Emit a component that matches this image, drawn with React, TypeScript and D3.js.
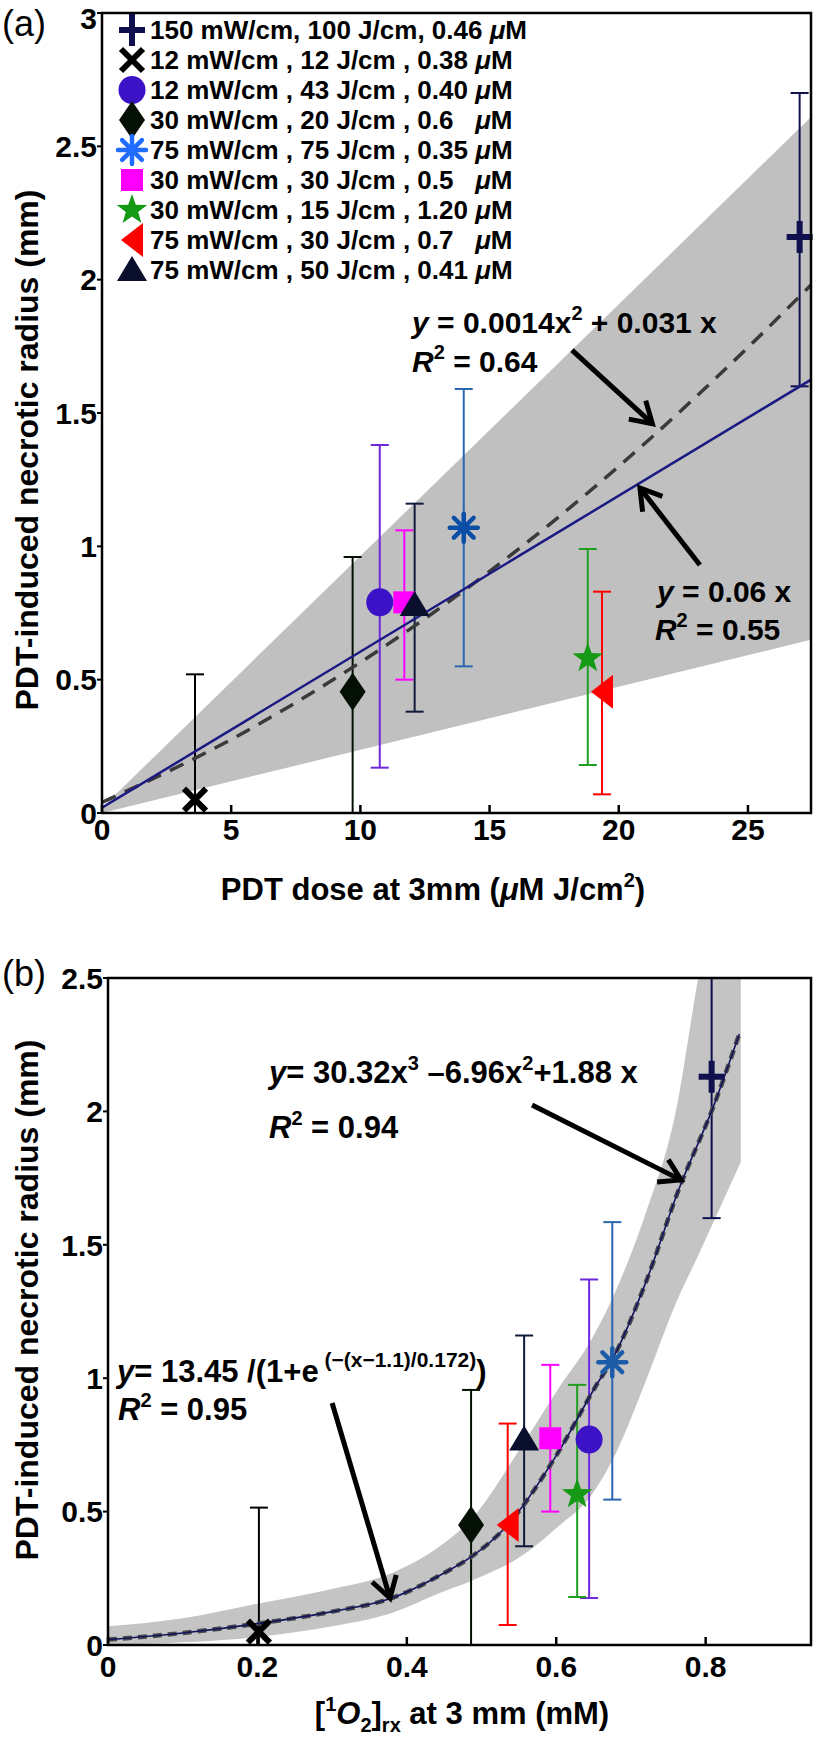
import React from "react";
import * as d3 from "d3";

const FONT = "'Liberation Sans', Arial, Helvetica, sans-serif";

// ---------- legend / series ----------
const legendMain = [
  "150 mW/cm, 100 J/cm, 0.46 ",
  "12 mW/cm , 12 J/cm , 0.38 ",
  "12 mW/cm , 43 J/cm , 0.40 ",
  "30 mW/cm , 20 J/cm , 0.6   ",
  "75 mW/cm , 75 J/cm , 0.35 ",
  "30 mW/cm , 30 J/cm , 0.5   ",
  "30 mW/cm , 15 J/cm , 1.20 ",
  "75 mW/cm , 30 J/cm , 0.7   ",
  "75 mW/cm , 50 J/cm , 0.41 ",
];
const markerKinds = ["plus", "x", "circle", "diamond", "asterisk", "square", "star", "triLeft", "triUp"];
const legendColors = ["#10104e", "#000000", "#3b12c6", "#041004", "#1f6cff", "#ff00ff", "#169a16", "#ff0000", "#0a0f2e"];
const markerColorsA = ["#10104e", "#000000", "#3b12c6", "#041004", "#0a4ea6", "#ff00ff", "#169a16", "#ff0000", "#0a0f2e"];
const markerColorsB = ["#10104e", "#000000", "#3b12c6", "#041004", "#1d5ca8", "#ff00ff", "#169a16", "#ff0000", "#0a0f2e"];
const errColors = ["#10104e", "#000000", "#6d28dc", "#041004", "#2b66ae", "#ff00ff", "#1f9e1f", "#ff0000", "#101a3a"];

// ---------- panel (a) data ----------
const aDose = [27.0, 3.6, 10.75, 9.7, 14.0, 11.7, 18.8, 19.35, 12.1];
const aRadius = [2.16, 0.05, 0.79, 0.455, 1.07, 0.79, 0.58, 0.455, 0.78];
const aUpper = [2.7, 0.52, 1.38, 0.96, 1.59, 1.06, 0.99, 0.83, 1.16];
const aLower = [1.6, -0.42, 0.17, -0.05, 0.55, 0.5, 0.18, 0.07, 0.38];

const aLinX = [0, 27.44];
const aLinY = [0.02, 1.625];
const aQuadX = [0, 5, 10, 15, 20, 25, 27.44];
const aQuadY = [0.04, 0.276, 0.565, 0.906, 1.3, 1.746, 1.98];
const aBandX = [0, 27.44];
const aBandHi = [0.02, 2.61];
const aBandLo = [0.0, 0.65];

const aXTicks = [0, 5, 10, 15, 20, 25];
const aYTicks = [0, 0.5, 1, 1.5, 2, 2.5, 3];
const aXMax = 27.44;
const aYMax = 3;

// ---------- panel (b) data ----------
const bO2 = [0.808, 0.202, 0.644, 0.486, 0.675, 0.592, 0.628, 0.535, 0.557];
const bRadius = [2.13, 0.05, 0.77, 0.45, 1.06, 0.775, 0.565, 0.45, 0.77];
const bUpper = [2.67, 0.515, 1.37, 0.956, 1.585, 1.05, 0.975, 0.83, 1.16];
const bLower = [1.6, -0.41, 0.176, -0.06, 0.545, 0.5, 0.18, 0.075, 0.37];

const bCurveX = [0, 0.1, 0.2, 0.3, 0.38, 0.45, 0.486, 0.535, 0.6, 0.655, 0.675, 0.72, 0.763, 0.812, 0.845];
const bCurveY = [0.02, 0.045, 0.08, 0.125, 0.176, 0.27, 0.33, 0.45, 0.71, 0.98, 1.07, 1.36, 1.7, 2.03, 2.29];
const bBandX = [0, 0.1, 0.2, 0.3, 0.38, 0.444, 0.486, 0.557, 0.605, 0.644, 0.68, 0.72, 0.76, 0.79, 0.847];
const bBandHi = [0.07, 0.1, 0.155, 0.21, 0.27, 0.37, 0.47, 0.76, 0.97, 1.13, 1.33, 1.62, 2.0, 2.5, 3.3];
const bBandLo = [0.0, 0.01, 0.03, 0.07, 0.12, 0.195, 0.24, 0.34, 0.45, 0.55, 0.72, 0.99, 1.28, 1.46, 1.81];

const bXTicks = [0, 0.2, 0.4, 0.6, 0.8];
const bYTicks = [0, 0.5, 1, 1.5, 2, 2.5];
const bXMax = 0.941;
const bYMax = 2.5;

// annotation anchors (data units)
const aEq1 = [12.0, 1.8];
const aEq1R = [12.0, 1.654];
const aArrow1 = [18.19, 1.736, 21.3, 1.46];
const aEq2 = [21.48, 0.791];
const aEq2R = [21.4, 0.649];
const aArrow2 = [23.14, 0.93, 20.82, 1.219];
const bEq1 = [0.2155, 2.106];
const bEq1R = [0.2155, 1.9];
const bArrow1 = [0.5676, 2.024, 0.767, 1.743];
const bEq2 = [0.012, 0.986];
const bEq2R = [0.0134, 0.843];
const bArrow2 = [0.3, 0.907, 0.3775, 0.176];

// ---------- layout ----------
const A = { left: 102, right: 811, top: 13, bottom: 813 };
const B = { left: 108, right: 811, top: 978, bottom: 1645 };

const xA = d3.scaleLinear().domain([0, aXMax]).range([A.left, A.right]);
const yA = d3.scaleLinear().domain([0, aYMax]).range([A.bottom, A.top]);
const xB = d3.scaleLinear().domain([0, bXMax]).range([B.left, B.right]);
const yB = d3.scaleLinear().domain([0, bYMax]).range([B.bottom, B.top]);

const fmt = d3.format("~g");

function Marker({ kind, x, y, color }: { kind: string; x: number; y: number; color: string }) {
  const t = `translate(${x},${y})`;
  switch (kind) {
    case "plus":
      return (
        <g transform={t} stroke={color} strokeWidth={6}>
          <line x1={-13} x2={13} y1={0} y2={0} />
          <line x1={0} x2={0} y1={-16} y2={16} />
        </g>
      );
    case "x":
      return (
        <g transform={t} stroke={color} strokeWidth={6}>
          <line x1={-11} y1={-11} x2={11} y2={11} />
          <line x1={-11} y1={11} x2={11} y2={-11} />
        </g>
      );
    case "circle":
      return <ellipse cx={x} cy={y} rx={13.5} ry={14} fill={color} />;
    case "diamond":
      return <polygon transform={t} points="0,-19 13,0 0,19 -13,0" fill={color} />;
    case "asterisk":
      return (
        <g transform={t} stroke={color} strokeWidth={4.5} strokeLinecap="round">
          {[0, 45, 90, 135].map((a) => (
            <line key={a} x1={-14} x2={14} y1={0} y2={0} transform={`rotate(${a})`} />
          ))}
        </g>
      );
    case "square":
      return <rect x={x - 11} y={y - 11} width={22} height={22} fill={color} />;
    case "star": {
      const pts = d3
        .range(10)
        .map((i) => {
          const r = i % 2 === 0 ? 16 : 6.5;
          const ang = -Math.PI / 2 + (i * Math.PI) / 5;
          return `${(r * Math.cos(ang)).toFixed(2)},${(r * Math.sin(ang)).toFixed(2)}`;
        })
        .join(" ");
      return <polygon transform={t} points={pts} fill={color} />;
    }
    case "triLeft":
      return <polygon transform={t} points="-11,0 11,-17 11,17" fill={color} />;
    case "triUp":
      return <polygon transform={t} points="0,-14 15,11 -15,11" fill={color} />;
    default:
      return null;
  }
}

function Arrow({ x1, y1, x2, y2 }: { x1: number; y1: number; x2: number; y2: number }) {
  const ang = Math.atan2(y2 - y1, x2 - x1);
  const L = 24;
  const s = 0.55;
  const p1 = [x2 - L * Math.cos(ang - s), y2 - L * Math.sin(ang - s)];
  const p2 = [x2 - L * Math.cos(ang + s), y2 - L * Math.sin(ang + s)];
  return (
    <g stroke="#000" strokeWidth={5} fill="none">
      <line x1={x1} y1={y1} x2={x2 - 3 * Math.cos(ang)} y2={y2 - 3 * Math.sin(ang)} />
      <polyline points={`${p1[0]},${p1[1]} ${x2},${y2} ${p2[0]},${p2[1]}`} strokeLinejoin="miter" />
    </g>
  );
}

function ErrBars({ xs, lo, hi, x, y }: any) {
  return (
    <g strokeWidth={2}>
      {xs.map((v: number, i: number) => {
        const cx = x(v);
        const yt = y(hi[i]);
        const yb = y(lo[i]);
        return (
          <g key={i} stroke={errColors[i]}>
            <line x1={cx} x2={cx} y1={yt} y2={yb} />
            <line x1={cx - 9} x2={cx + 9} y1={yt} y2={yt} />
            <line x1={cx - 9} x2={cx + 9} y1={yb} y2={yb} />
          </g>
        );
      })}
    </g>
  );
}

function Axes({ P, x, y, xt, yt, xLabY }: any) {
  return (
    <g>
      <rect x={P.left} y={P.top} width={P.right - P.left} height={P.bottom - P.top} fill="none" stroke="#000" strokeWidth={2.5} />
      {xt.map((v: number) => (
        <g key={"x" + v}>
          <line x1={x(v)} x2={x(v)} y1={P.bottom} y2={P.bottom - 8} stroke="#000" strokeWidth={2.5} />
          <text x={x(v)} y={xLabY} textAnchor="middle" fontSize={30} fontWeight="bold" fontFamily={FONT}>
            {fmt(v)}
          </text>
        </g>
      ))}
      {yt.map((v: number) => (
        <g key={"y" + v}>
          <line x1={P.left - 5} x2={P.left} y1={y(v)} y2={y(v)} stroke="#000" strokeWidth={2} />
          <text
            x={P.left - 5}
            y={Math.max(y(v), 18)}
            dy="0.36em"
            textAnchor="end"
            fontSize={30}
            fontWeight="bold"
            fontFamily={FONT}
          >
            {fmt(v)}
          </text>
        </g>
      ))}
    </g>
  );
}

export default function App() {
  const lineA = d3.line<number>().x((d, i) => xA(aLinX[i])).y((d) => yA(d));
  const quadA = d3
    .line<number>()
    .x((d, i) => xA(aQuadX[i]))
    .y((d) => yA(d))
    .curve(d3.curveMonotoneX);
  const bandA = d3
    .area<number>()
    .x((d, i) => xA(aBandX[i]))
    .y0((d, i) => yA(aBandLo[i]))
    .y1((d) => yA(d));
  const bandB = d3
    .area<number>()
    .x((d, i) => xB(bBandX[i]))
    .y0((d, i) => yB(bBandLo[i]))
    .y1((d) => yB(d))
    .curve(d3.curveMonotoneX);
  const curveB = d3
    .line<number>()
    .x((d, i) => xB(bCurveX[i]))
    .y((d) => yB(d))
    .curve(d3.curveMonotoneX);

  const txt = { fontFamily: FONT, fontWeight: "bold" as const, fontSize: 30 };

  return (
    <svg width={816} height={1740} style={{ position: "absolute", left: 0, top: 0, background: "#fff" }} fontFamily={FONT}>
      <defs>
        <clipPath id="clipA">
          <rect x={A.left} y={A.top} width={A.right - A.left} height={A.bottom - A.top} />
        </clipPath>
        <clipPath id="clipB">
          <rect x={B.left} y={B.top} width={B.right - B.left} height={B.bottom - B.top} />
        </clipPath>
      </defs>
      <rect x={0} y={0} width={816} height={1740} fill="#fff" />

      {/* ================= Panel (a) ================= */}
      <g clipPath="url(#clipA)">
        <path d={bandA(aBandHi) || ""} fill="#c0c0c0" />
        <ErrBars xs={aDose} lo={aLower} hi={aUpper} x={xA} y={yA} />
        <path d={quadA(aQuadY) || ""} fill="none" stroke="#3a3a3a" strokeWidth={3.5} strokeDasharray="15 10" />
        <path d={lineA(aLinY) || ""} fill="none" stroke="#1a1a82" strokeWidth={2.5} />
      </g>
      {aDose.map((v, i) => (
        <Marker key={i} kind={markerKinds[i]} x={xA(v)} y={yA(aRadius[i])} color={markerColorsA[i]} />
      ))}
      <Axes P={A} x={xA} y={yA} xt={aXTicks} yt={aYTicks} xLabY={840} />

      {/* legend */}
      {legendMain.map((s, i) => {
        const cy = 30 + 30 * i;
        return (
          <g key={i}>
            <Marker kind={markerKinds[i]} x={132} y={cy} color={legendColors[i]} />
            <text x={150} y={cy + 9} fontSize={26} fontWeight="bold" fontFamily={FONT} style={{ whiteSpace: "pre" }}>
              {s}
              <tspan fontStyle="italic">μ</tspan>M
            </text>
          </g>
        );
      })}

      {/* annotations (a) */}
      <text x={xA(aEq1[0])} y={yA(aEq1[1])} {...txt} style={{ whiteSpace: "pre" }}>
        <tspan fontStyle="italic">y</tspan> = 0.0014x<tspan dy={-13} fontSize={20}>2</tspan>
        <tspan dy={13}> + 0.031 x</tspan>
      </text>
      <text x={xA(aEq1R[0])} y={yA(aEq1R[1])} {...txt}>
        <tspan fontStyle="italic">R</tspan>
        <tspan dy={-13} fontSize={20}>2</tspan>
        <tspan dy={13}> = 0.64</tspan>
      </text>
      <Arrow x1={xA(aArrow1[0])} y1={yA(aArrow1[1])} x2={xA(aArrow1[2])} y2={yA(aArrow1[3])} />
      <text x={xA(aEq2[0])} y={yA(aEq2[1])} {...txt}>
        <tspan fontStyle="italic">y</tspan> = 0.06 x
      </text>
      <text x={xA(aEq2R[0])} y={yA(aEq2R[1])} {...txt}>
        <tspan fontStyle="italic">R</tspan>
        <tspan dy={-13} fontSize={20}>2</tspan>
        <tspan dy={13}> = 0.55</tspan>
      </text>
      <Arrow x1={xA(aArrow2[0])} y1={yA(aArrow2[1])} x2={xA(aArrow2[2])} y2={yA(aArrow2[3])} />

      {/* labels (a) */}
      <text x={2} y={36} fontSize={36} fontFamily={FONT}>
        (a)
      </text>
      <text transform="translate(38,450) rotate(-90)" textAnchor="middle" fontSize={32} fontWeight="bold" fontFamily={FONT}>
        PDT-induced necrotic radius (mm)
      </text>
      <text x={433} y={900} textAnchor="middle" fontSize={31} fontWeight="bold" fontFamily={FONT}>
        PDT dose at 3mm (<tspan fontStyle="italic">μ</tspan>M J/cm<tspan dy={-13} fontSize={20}>2</tspan>
        <tspan dy={13}>)</tspan>
      </text>

      {/* ================= Panel (b) ================= */}
      <g clipPath="url(#clipB)">
        <path d={bandB(bBandHi) || ""} fill="#c4c4c4" />
        <ErrBars xs={bO2} lo={bLower} hi={bUpper} x={xB} y={yB} />
        <path d={curveB(bCurveY) || ""} fill="none" stroke="#4a4a4a" strokeWidth={4.5} strokeDasharray="9 6" />
        <path d={curveB(bCurveY) || ""} fill="none" stroke="#14145e" strokeWidth={1.6} />
      </g>
      {bO2.map((v, i) => (
        <Marker key={i} kind={markerKinds[i]} x={xB(v)} y={yB(bRadius[i])} color={markerColorsB[i]} />
      ))}
      <Axes P={B} x={xB} y={yB} xt={bXTicks} yt={bYTicks} xLabY={1677} />

      {/* annotations (b) */}
      <text x={xB(bEq1[0])} y={yB(bEq1[1])} {...txt} fontSize={31}>
        <tspan fontStyle="italic">y</tspan>= 30.32x<tspan dy={-13} fontSize={20}>3</tspan>
        <tspan dy={13}> –6.96x</tspan>
        <tspan dy={-13} fontSize={20}>2</tspan>
        <tspan dy={13}>+1.88 x</tspan>
      </text>
      <text x={xB(bEq1R[0])} y={yB(bEq1R[1])} {...txt} fontSize={31}>
        <tspan fontStyle="italic">R</tspan>
        <tspan dy={-13} fontSize={20}>2</tspan>
        <tspan dy={13}> = 0.94</tspan>
      </text>
      <Arrow x1={xB(bArrow1[0])} y1={yB(bArrow1[1])} x2={xB(bArrow1[2])} y2={yB(bArrow1[3])} />
      <text x={xB(bEq2[0])} y={yB(bEq2[1])} {...txt} fontSize={31}>
        <tspan fontStyle="italic">y</tspan>= 13.45 /(1+e<tspan dy={-15} fontSize={21}> (−(x−1.1)/0.172)</tspan>
        <tspan dy={15}>)</tspan>
      </text>
      <text x={xB(bEq2R[0])} y={yB(bEq2R[1])} {...txt} fontSize={31}>
        <tspan fontStyle="italic">R</tspan>
        <tspan dy={-13} fontSize={20}>2</tspan>
        <tspan dy={13}> = 0.95</tspan>
      </text>
      <Arrow x1={xB(bArrow2[0])} y1={yB(bArrow2[1])} x2={xB(bArrow2[2])} y2={yB(bArrow2[3])} />

      {/* labels (b) */}
      <text x={2} y={986} fontSize={36} fontFamily={FONT}>
        (b)
      </text>
      <text transform="translate(38,1300) rotate(-90)" textAnchor="middle" fontSize={32} fontWeight="bold" fontFamily={FONT}>
        PDT-induced necrotic radius (mm)
      </text>
      <text x={462} y={1724} textAnchor="middle" fontSize={31} fontWeight="bold" fontFamily={FONT}>
        [<tspan dy={-13} fontSize={20}>1</tspan>
        <tspan dy={13} fontStyle="italic">O</tspan>
        <tspan dy={8} fontSize={20}>2</tspan>
        <tspan dy={-8}>]</tspan>
        <tspan dy={8} fontSize={20}>rx</tspan>
        <tspan dy={-8}> at 3 mm (mM)</tspan>
      </text>
    </svg>
  );
}
